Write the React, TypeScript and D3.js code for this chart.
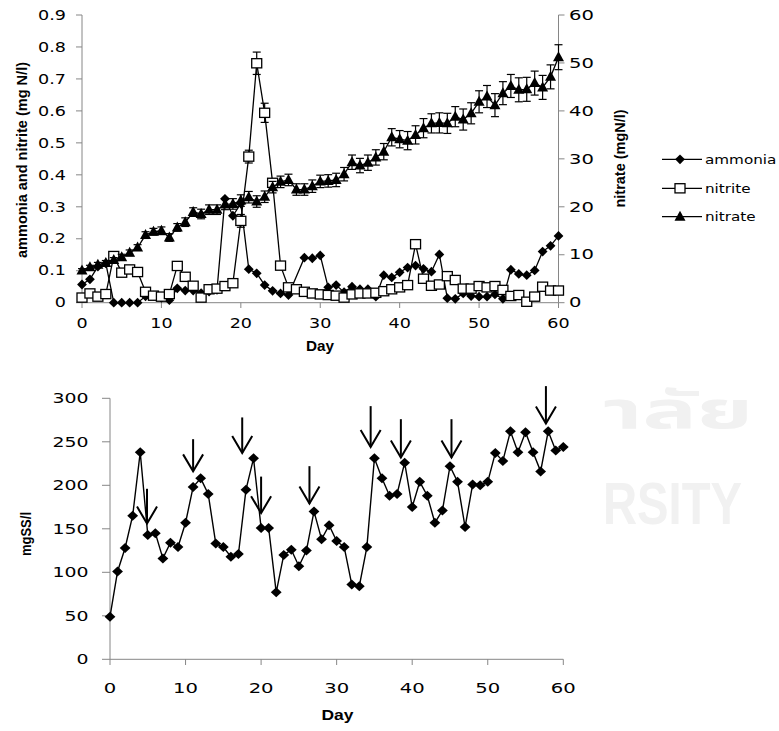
import React from "react";
import * as d3 from "d3";

// ---------- data ----------
const days = d3.range(0, 61);

const ammonia: (number | null)[] = [
  0.057, 0.073, 0.113, 0.123, 0.0, 0.0, 0.0, 0.0, 0.02, 0.022,
  0.015, 0.008, 0.045, 0.038, 0.038, 0.03, 0.035, 0.04, 0.325, 0.272,
  0.31, 0.105, 0.092, 0.055, 0.037, 0.029, 0.024, null, 0.141, 0.139,
  0.148, 0.048, 0.055, 0.033, 0.05, 0.042, 0.042, 0.019, 0.086, 0.079,
  0.095, 0.11, 0.116, 0.106, 0.097, 0.151, 0.014, 0.012, 0.029, 0.021,
  0.019, 0.019, 0.026, 0.012, 0.103, 0.09, 0.086, 0.101, 0.16, 0.178,
  0.209,
];

const nitrite: number[] = [
  0.016, 0.029, 0.019, 0.027, 0.146, 0.094, 0.104, 0.096, 0.034, 0.022,
  0.019, 0.027, 0.115, 0.081, 0.053, 0.016, 0.042, 0.044, 0.052, 0.061,
  0.256, 0.457, 0.749, 0.594, 0.375, 0.116, 0.048, 0.042, 0.034, 0.029,
  0.026, 0.024, 0.022, 0.016, 0.026, 0.029, 0.029, 0.031, 0.036, 0.042,
  0.048, 0.055, 0.183, 0.075, 0.053, 0.057, 0.083, 0.071, 0.044, 0.044,
  0.052, 0.048, 0.052, 0.04, 0.021, 0.024, 0.003, 0.019, 0.05, 0.038,
  0.038,
];

const nitriteErr: number[] = [
  0, 0, 0, 0, 0, 0, 0, 0, 0, 0,
  0, 0, 0, 0, 0, 0, 0, 0, 0, 0,
  0.02, 0.02, 0.035, 0.03, 0.012, 0, 0, 0, 0, 0,
  0, 0, 0, 0, 0, 0, 0, 0, 0, 0,
  0, 0, 0, 0, 0, 0, 0, 0, 0, 0,
  0, 0, 0, 0, 0, 0, 0, 0, 0, 0,
  0,
];

const nitrate: number[] = [
  6.7, 7.4, 7.9, 8.3, 8.9, 9.5, 10.4, 11.5, 14.1, 14.8,
  15.0, 13.6, 15.7, 16.8, 18.9, 18.5, 19.4, 19.4, 20.5, 20.6,
  21.3, 22.0, 21.1, 22.1, 24.1, 25.2, 25.6, 23.6, 23.6, 24.3,
  25.3, 25.4, 25.6, 26.8, 29.3, 28.6, 29.2, 30.3, 31.5, 34.5,
  34.1, 33.8, 35.0, 36.4, 37.4, 37.5, 37.4, 38.8, 38.2, 39.5,
  41.9, 43.0, 41.2, 43.7, 45.2, 44.4, 44.5, 45.8, 44.9, 47.1,
  51.2,
];

const nitrateErr: number[] = [
  0.4, 0.4, 0.5, 0.5, 0.5, 0.6, 0.6, 0.6, 0.7, 0.7,
  0.8, 0.8, 0.8, 0.9, 0.9, 1.0, 1.0, 1.0, 1.1, 1.1,
  1.2, 1.2, 1.2, 1.2, 1.2, 1.2, 1.2, 1.2, 1.2, 1.3,
  1.3, 1.3, 1.4, 1.4, 1.5, 1.5, 1.6, 1.6, 1.7, 1.8,
  1.8, 1.9, 1.9, 2.0, 2.0, 2.1, 2.1, 2.1, 2.2, 2.2,
  2.3, 2.3, 2.4, 2.4, 2.4, 2.5, 2.5, 2.5, 2.5, 2.5,
  2.6,
];

const ss: number[] = [
  49, 101, 128, 165, 238, 143, 145, 116, 134, 129,
  157, 198, 208, 190, 133, 129, 118, 121, 195, 231,
  151, 151, 77, 120, 126, 107, 125, 170, 138, 154,
  136, 129, 86, 84, 129, 231, 208, 188, 190, 226,
  175, 204, 188, 157, 171, 222, 204, 152, 201, 200,
  204, 237, 228, 262, 238, 261, 238, 216, 262, 240,
  244,
];

const arrowDays = [4.9, 11.0, 17.5, 20.0, 26.4, 34.5, 38.5, 45.2, 57.7];
const arrowTips = [156, 216, 237, 168, 179, 244, 232, 232, 271];
const arrowTops = [196, 253, 278, 210, 222, 291, 276, 276, 314];

const legendLabels = ["ammonia", "nitrite", "nitrate"];

// ---------- styling ----------
const AXIS = "#868686";
const TICKFONT = "'DejaVu Sans', Verdana, sans-serif";
const BOLDFONT = "'Liberation Sans', Arial, sans-serif";

const diamond = (r: number) => `M0,${-r}L${r},0L0,${r}L${-r},0Z`;
const triangle = (w: number, h: number) => `M0,${-h * 0.6}L${w},${h * 0.4}L${-w},${h * 0.4}Z`;

function SText(props: {
  x: number; y: number; sx?: number; anchor?: string; size?: number;
  children: React.ReactNode; dy?: string; weight?: string | number; family?: string; fill?: string;
}) {
  const { x, y, sx = 1.3, anchor = "middle", size = 13.5, children, dy = "0.35em", weight = "normal", family = TICKFONT, fill = "#000" } = props;
  return (
    <text
      transform={`translate(${x},${y}) scale(${sx},1)`}
      textAnchor={anchor}
      fontSize={size}
      dy={dy}
      fontWeight={weight}
      fontFamily={family}
      fill={fill}
    >
      {children}
    </text>
  );
}

function Marker({ kind, x, y }: { kind: string; x: number; y: number }) {
  if (kind === "diamond") return <path d={diamond(4.9)} transform={`translate(${x},${y})`} fill="#000" />;
  if (kind === "square")
    return <rect x={x - 5} y={y - 4.6} width={10} height={9.2} fill="#fff" stroke="#000" strokeWidth={1.3} />;
  return <path d={triangle(5.5, 10)} transform={`translate(${x},${y})`} fill="#000" />;
}

export default function App() {
  // top chart scales
  const xTop = d3.scaleLinear().domain([0, 60]).range([82, 558.5]);
  const yLeft = d3.scaleLinear().domain([0, 0.9]).range([302.7, 15]);
  const yRight = d3.scaleLinear().domain([0, 60]).range([302.7, 15]);

  // bottom chart scales
  const xBot = d3.scaleLinear().domain([0, 60]).range([110, 563.3]);
  const yBot = d3.scaleLinear().domain([0, 300]).range([659.3, 398.3]);

  const ammoniaPts = days
    .map((d, i) => ({ d, v: ammonia[i] }))
    .filter((p) => p.v !== null) as { d: number; v: number }[];
  const nitritePts = days.map((d, i) => ({ d, v: nitrite[i], e: nitriteErr[i] }));
  const nitratePts = days.map((d, i) => ({ d, v: nitrate[i], e: nitrateErr[i] }));
  const ssPts = days.map((d, i) => ({ d, v: ss[i] }));

  const lineAmm = d3.line<{ d: number; v: number }>().x((p) => xTop(p.d)).y((p) => yLeft(p.v));
  const lineNit = d3.line<{ d: number; v: number }>().x((p) => xTop(p.d)).y((p) => yLeft(p.v));
  const lineNat = d3.line<{ d: number; v: number }>().x((p) => xTop(p.d)).y((p) => yRight(p.v));
  const lineSS = d3.line<{ d: number; v: number }>().x((p) => xBot(p.d)).y((p) => yBot(p.v));

  const leftTicks = yLeft.ticks(9);
  const rightTicks = yRight.ticks(6);
  const xTicksTop = xTop.ticks(6);
  const xTicksBot = xBot.ticks(6);
  const yTicksBot = yBot.ticks(6);

  const fmtLeft = (v: number) => (v === 0 ? "0" : d3.format(".1f")(v));

  const legendY = [159.3, 188.3, 216.7];
  const legendKinds = ["diamond", "square", "triangle"];

  return (
    <svg
      width={779}
      height={731}
      style={{ position: "absolute", left: 0, top: 0, background: "#fff" }}
    >
      <rect x={0} y={0} width={779} height={731} fill="#fff" />

      {/* watermark */}
      <text x={603} y={428} fontSize={52} fontWeight="bold" fontFamily="'Noto Sans Thai', 'Noto Sans', 'DejaVu Sans', sans-serif" fill="#f1f1f1" textLength={150} lengthAdjust="spacingAndGlyphs">
        าลัย
      </text>
      <text x={603} y={524} fontSize={60} fontWeight="bold" fontFamily={BOLDFONT} fill="#f1f1f1" textLength={139} lengthAdjust="spacingAndGlyphs">
        RSITY
      </text>

      {/* ================= TOP CHART ================= */}
      <line x1={82} x2={82} y1={15} y2={302.7} stroke={AXIS} strokeWidth={1} />
      <line x1={558.5} x2={558.5} y1={15} y2={302.7} stroke={AXIS} strokeWidth={1} />
      <line x1={82} x2={558.5} y1={302.7} y2={302.7} stroke={AXIS} strokeWidth={1} />
      {leftTicks.map((t) => (
        <g key={"lt" + t}>
          <line x1={76} x2={82} y1={yLeft(t)} y2={yLeft(t)} stroke={AXIS} />
          <SText x={66} y={yLeft(t)} anchor="end" sx={1.3}>{fmtLeft(t)}</SText>
        </g>
      ))}
      {rightTicks.map((t) => (
        <g key={"rt" + t}>
          <line x1={558.5} x2={564.5} y1={yRight(t)} y2={yRight(t)} stroke={AXIS} />
          <SText x={569} y={yRight(t)} anchor="start" sx={1.45}>{t}</SText>
        </g>
      ))}
      {xTicksTop.map((t) => (
        <g key={"xt" + t}>
          <line x1={xTop(t)} x2={xTop(t)} y1={302.7} y2={308} stroke={AXIS} />
          <SText x={xTop(t)} y={323} sx={1.3}>{t}</SText>
        </g>
      ))}
      <text
        transform={`translate(27,160) rotate(-90)`}
        textAnchor="middle"
        fontSize={14}
        fontWeight="bold"
        fontFamily={BOLDFONT}
        textLength={196}
        lengthAdjust="spacingAndGlyphs"
      >
        ammonia and nitrite (mg N/l)
      </text>
      <text
        transform={`translate(625,158.5) rotate(-90)`}
        textAnchor="middle"
        fontSize={14}
        fontWeight="bold"
        fontFamily={BOLDFONT}
        textLength={98}
        lengthAdjust="spacingAndGlyphs"
      >
        nitrate (mgN/l)
      </text>
      <text x={320} y={351} textAnchor="middle" fontSize={14} fontWeight="bold" fontFamily={BOLDFONT} textLength={28} lengthAdjust="spacingAndGlyphs">
        Day
      </text>

      {/* ammonia */}
      <path d={lineAmm(ammoniaPts) || ""} fill="none" stroke="#000" strokeWidth={1.3} />
      {ammoniaPts.map((p) => (
        <Marker key={"a" + p.d} kind="diamond" x={xTop(p.d)} y={yLeft(p.v)} />
      ))}

      {/* nitrite */}
      <path d={lineNit(nitritePts) || ""} fill="none" stroke="#000" strokeWidth={1.3} />
      {nitritePts.filter((p) => p.e > 0).map((p) => (
        <g key={"ne" + p.d} stroke="#000" strokeWidth={1.2}>
          <line x1={xTop(p.d)} x2={xTop(p.d)} y1={yLeft(p.v - p.e)} y2={yLeft(p.v + p.e)} />
          <line x1={xTop(p.d) - 4} x2={xTop(p.d) + 4} y1={yLeft(p.v + p.e)} y2={yLeft(p.v + p.e)} />
          <line x1={xTop(p.d) - 4} x2={xTop(p.d) + 4} y1={yLeft(p.v - p.e)} y2={yLeft(p.v - p.e)} />
        </g>
      ))}
      {nitritePts.map((p) => (
        <Marker key={"n" + p.d} kind="square" x={xTop(p.d)} y={yLeft(p.v)} />
      ))}

      {/* nitrate */}
      <path d={lineNat(nitratePts) || ""} fill="none" stroke="#000" strokeWidth={1.3} />
      {nitratePts.map((p) => (
        <g key={"te" + p.d} stroke="#000" strokeWidth={1.2}>
          <line x1={xTop(p.d)} x2={xTop(p.d)} y1={yRight(p.v - p.e)} y2={yRight(p.v + p.e)} />
          <line x1={xTop(p.d) - 4} x2={xTop(p.d) + 4} y1={yRight(p.v + p.e)} y2={yRight(p.v + p.e)} />
          <line x1={xTop(p.d) - 4} x2={xTop(p.d) + 4} y1={yRight(p.v - p.e)} y2={yRight(p.v - p.e)} />
        </g>
      ))}
      {nitratePts.map((p) => (
        <Marker key={"t" + p.d} kind="triangle" x={xTop(p.d)} y={yRight(p.v)} />
      ))}

      {/* legend */}
      {legendLabels.map((lab, i) => (
        <g key={lab}>
          <line x1={662} x2={702} y1={legendY[i]} y2={legendY[i]} stroke="#000" strokeWidth={1.3} />
          <Marker kind={legendKinds[i]} x={680} y={legendY[i]} />
          <SText x={705} y={legendY[i]} anchor="start" size={13} sx={1.17}>{lab}</SText>
        </g>
      ))}

      {/* ================= BOTTOM CHART ================= */}
      <line x1={110} x2={110} y1={398.3} y2={659.3} stroke={AXIS} strokeWidth={1} />
      <line x1={110} x2={563.3} y1={659.3} y2={659.3} stroke={AXIS} strokeWidth={1} />
      {yTicksBot.map((t) => (
        <g key={"by" + t}>
          <line x1={102} x2={110} y1={yBot(t)} y2={yBot(t)} stroke={AXIS} />
          <SText x={88.5} y={yBot(t)} anchor="end" size={13.5} sx={1.4}>{t}</SText>
        </g>
      ))}
      {xTicksBot.map((t) => (
        <g key={"bx" + t}>
          <line x1={xBot(t)} x2={xBot(t)} y1={659.3} y2={665} stroke={AXIS} />
          <SText x={xBot(t)} y={688.5} size={14} sx={1.4}>{t}</SText>
        </g>
      ))}
      <text
        transform={`translate(31,534) rotate(-90)`}
        textAnchor="middle"
        fontSize={14}
        fontWeight="bold"
        fontFamily={BOLDFONT}
        textLength={44}
        lengthAdjust="spacingAndGlyphs"
      >
        mgSS/l
      </text>
      <text x={337.5} y={720} textAnchor="middle" fontSize={14.5} fontWeight="bold" fontFamily={BOLDFONT} textLength={32} lengthAdjust="spacingAndGlyphs">
        Day
      </text>

      <path d={lineSS(ssPts) || ""} fill="none" stroke="#000" strokeWidth={1.4} />
      {ssPts.map((p) => (
        <path key={"s" + p.d} d={`M0,-5L5.4,0L0,5L-5.4,0Z`} transform={`translate(${xBot(p.d)},${yBot(p.v)})`} fill="#000" />
      ))}

      {/* arrows */}
      {arrowDays.map((d, i) => {
        const x = xBot(d);
        const yTip = yBot(arrowTips[i]);
        const yTop = yBot(arrowTops[i]);
        return (
          <g key={"ar" + i} stroke="#000" strokeWidth={2} fill="none">
            <line x1={x} x2={x} y1={yTop} y2={yTip} />
            <path d={`M${x - 10},${yTip - 17}L${x},${yTip}L${x + 10},${yTip - 17}`} />
          </g>
        );
      })}
    </svg>
  );
}
